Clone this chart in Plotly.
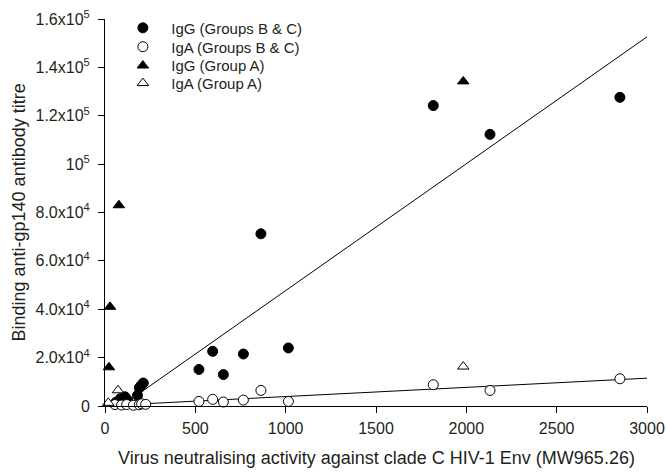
import plotly.graph_objects as go

# ---- data ----
igg_bc_x = [60, 85, 110, 125, 180, 190, 200, 212, 520, 596, 655, 766, 863, 1015, 1817, 2131, 2850]
igg_bc_y = [1500, 3000, 3800, 2500, 4400, 7500, 8500, 9500, 15100, 22600, 13000, 21500, 71200, 24000, 124200, 112300, 127600]

iga_bc_x = [55, 92, 120, 157, 190, 203, 225, 520, 596, 655, 766, 863, 1015, 1817, 2131, 2850]
iga_bc_y = [600, 400, 600, 300, 500, 900, 700, 1900, 2750, 1650, 2450, 6450, 1900, 8800, 6450, 11250]

igg_a_x = [22, 28, 77, 1983]
igg_a_y = [16000, 41000, 83000, 134200]

iga_a_x = [18, 72, 1983]
iga_a_y = [1300, 6500, 16300]

# regression lines (slope, intercept, x-span)
igg_fit = (52.46, -4750.0)
iga_fit = (3.8, 100.0)
fit_x = [190, 3000]

y_ticks = [0, 20000, 40000, 60000, 80000, 100000, 120000, 140000, 160000]
y_tick_text = ["0", "2.0x10<sup>4</sup>", "4.0x10<sup>4</sup>", "6.0x10<sup>4</sup>",
               "8.0x10<sup>4</sup>", "10<sup>5</sup>", "1.2x10<sup>5</sup>",
               "1.4x10<sup>5</sup>", "1.6x10<sup>5</sup>"]
x_ticks = [0, 500, 1000, 1500, 2000, 2500, 3000]

series_names = ["IgG (Groups B & C)", "IgA (Groups B & C)", "IgG (Group A)", "IgA (Group A)"]

FONT = "Liberation Sans, Arial, sans-serif"
TXT = "#231f20"
NB = "\u00a0\u00a0"

fig = go.Figure()

# regression lines
fig.add_trace(go.Scatter(x=fit_x, y=[igg_fit[0] * v + igg_fit[1] for v in fit_x],
                         mode="lines", line=dict(color="black", width=1),
                         showlegend=False, hoverinfo="skip", cliponaxis=False))
fig.add_trace(go.Scatter(x=fit_x, y=[iga_fit[0] * v + iga_fit[1] for v in fit_x],
                         mode="lines", line=dict(color="black", width=1),
                         showlegend=False, hoverinfo="skip", cliponaxis=False))

specs = [
    (igg_bc_x, igg_bc_y, "circle", "black", "legend"),
    (iga_bc_x, iga_bc_y, "circle", "white", "legend2"),
    (igg_a_x, igg_a_y, "triangle-up", "black", "legend3"),
    (iga_a_x, iga_a_y, "triangle-up", "white", "legend4"),
]
for (xs, ys, sym, col, lg), nm in zip(specs, series_names):
    fig.add_trace(go.Scatter(x=xs, y=ys, mode="markers", name=NB + nm, legend=lg,
                             marker=dict(symbol=sym, size=10, color=col,
                                         line=dict(color="black", width=1)),
                             cliponaxis=False))

legend_rows = [0.9766, 0.9278, 0.8791, 0.8337]
leg_common = dict(x=0.033, xanchor="left", yanchor="middle", bgcolor="rgba(0,0,0,0)",
                  font=dict(size=15, color=TXT), itemwidth=30)

fig.update_layout(
    width=666, height=472,
    margin=dict(l=105, r=19, t=16, b=66),
    paper_bgcolor="white", plot_bgcolor="white",
    font=dict(family=FONT, size=15, color=TXT),
    showlegend=True,
    legend=dict(y=legend_rows[0], **leg_common),
    legend2=dict(y=legend_rows[1], **leg_common),
    legend3=dict(y=legend_rows[2], **leg_common),
    legend4=dict(y=legend_rows[3], **leg_common),
    xaxis=dict(range=[0, 3000], tickvals=x_ticks, showgrid=False, zeroline=False,
               showline=True, linecolor="black", linewidth=1, ticks="outside",
               ticklen=6, tickcolor="black", automargin=False, ticklabelstandoff=2,
               tickfont=dict(size=16, color=TXT)),
    yaxis=dict(range=[0, 160000], tickvals=y_ticks, ticktext=y_tick_text, showgrid=False,
               zeroline=False, showline=True, linecolor="black", linewidth=1,
               ticks="outside", ticklen=6, tickcolor="black", automargin=False,
               ticklabelstandoff=5, tickfont=dict(size=16, color=TXT)),
    annotations=[
        dict(text="Virus neutralising activity against clade C HIV-1 Env (MW965.26)",
             xref="paper", yref="paper", x=0.5, y=0, xanchor="center", yanchor="middle",
             yshift=-52, showarrow=False, font=dict(size=18, color=TXT)),
        dict(text="Binding anti-gp140 antibody titre", textangle=-90,
             xref="paper", yref="paper", x=0, y=0.5, xanchor="center", yanchor="middle",
             xshift=-87, showarrow=False, font=dict(size=18, color=TXT)),
    ],
)

fig.write_html("out.html")
